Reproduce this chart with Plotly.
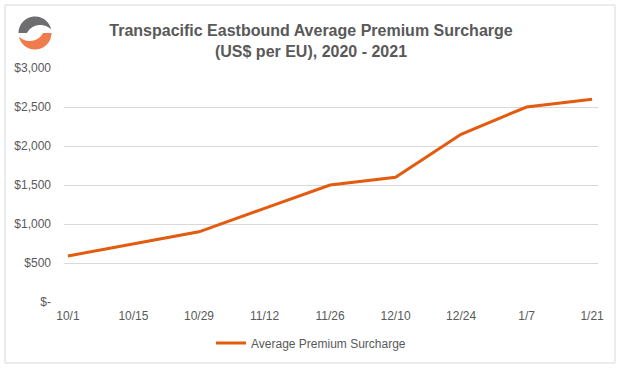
import numpy as np
import plotly.graph_objects as go

categories = ["10/1", "10/15", "10/29", "11/12", "11/26", "12/10", "12/24", "1/7", "1/21"]
surcharge = [590, 745, 900, 1200, 1500, 1600, 2150, 2500, 2600]
y_tickvals = [0, 500, 1000, 1500, 2000, 2500, 3000]
y_ticktext = ["$-", "$500", "$1,000", "$1,500", "$2,000", "$2,500", "$3,000"]

W, H = 622, 369
L, R, T, B = 64, 24, 68, 67
PW, PH = W - L - R, H - T - B

def px(x):
    return (x - L) / PW

def py(y):
    return (H - B - y) / PH

def poly_path(pts):
    return "M " + " L ".join(f"{px(x):.5f},{py(y):.5f}" for x, y in pts) + " Z"

# logo crescents (decoration), pixel geometry
cx, cy, Ro = 35, 33, 16.5
icx, icy, Ri = 40.3, 40.1, 15.1
gray_pts = []
for a in np.linspace(np.radians(180), np.radians(15), 40):
    gray_pts.append((cx + Ro * np.cos(a), cy - Ro * np.sin(a)))
for a in np.linspace(np.radians(47.4), np.radians(151.9), 40):
    gray_pts.append((icx + Ri * np.cos(a), icy - Ri * np.sin(a)))
orange_pts = [(2 * cx - x, 2 * cy - y) for x, y in gray_pts]

fig = go.Figure()
fig.add_trace(go.Scatter(
    x=categories, y=surcharge, mode="lines", name="Average Premium Surcharge",
    line=dict(color="#E35B0E", width=3),
))

font_family = "Liberation Sans, Arial, sans-serif"
fig.update_layout(
    width=W, height=H,
    margin=dict(l=L, r=R, t=T, b=B, autoexpand=False),
    paper_bgcolor="white", plot_bgcolor="white",
    font=dict(family=font_family, size=12, color="#595959"),
    title=dict(
        text="Transpacific Eastbound Average Premium Surcharge<br>(US$ per EU), 2020 - 2021",
        x=0.5, xref="container", xanchor="center",
        y=(H - 36) / H, yref="container", yanchor="top",
        font=dict(family=font_family, size=16, color="#595959", weight="bold"),
    ),
    xaxis=dict(
        type="category", range=[-0.06, 8.09], showgrid=False, zeroline=False,
        showline=False, ticks="", ticklabelstandoff=5, automargin=False,
        tickfont=dict(size=12, color="#595959"),
    ),
    yaxis=dict(
        range=[0, 3000], tickvals=y_tickvals, ticktext=y_ticktext,
        showgrid=True, gridcolor="#D9D9D9", gridwidth=1, zeroline=False,
        showline=False, ticks="", ticklabelstandoff=12, automargin=False,
        tickfont=dict(size=12, color="#595959"),
    ),
    showlegend=True,
    legend=dict(
        orientation="h", x=0.5, xref="container", xanchor="center",
        y=(H - 343) / H, yref="container", yanchor="middle",
        font=dict(size=12, color="#595959"),
    ),
    shapes=[
        dict(type="rect", xref="paper", yref="paper",
             x0=px(5), x1=px(615), y0=py(363), y1=py(5),
             line=dict(color="#D9D9D9", width=1), fillcolor="rgba(0,0,0,0)", layer="below"),
        dict(type="path", xref="paper", yref="paper", path=poly_path(gray_pts),
             fillcolor="#6E6E70", line=dict(width=0)),
        dict(type="path", xref="paper", yref="paper", path=poly_path(orange_pts),
             fillcolor="#F07C4E", line=dict(width=0)),
    ],
)

fig.write_html(
    "out.html",
    config={"displayModeBar": False},
    post_script="document.body.style.margin='0';document.body.style.padding='0';",
)
